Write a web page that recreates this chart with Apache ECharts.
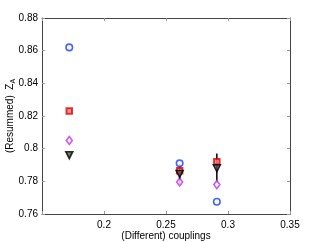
<!DOCTYPE html>
<html><head><meta charset="utf-8">
<script src="https://cdn.jsdelivr.net/npm/echarts@6/dist/echarts.min.js"></script>
<style>html,body{margin:0;padding:0;background:#fff}#c{width:321px;height:242px}</style>
</head><body><div id="c"></div>
<script>
const xVals = [0.172, 0.261, 0.291];
const circleVals = [0.862, 0.791, 0.7675];
const squareVals = [0.823, 0.7865, 0.792];
const diamondVals = [0.805, 0.7796, 0.778];
const triangleVals = [0.796, 0.7845, 0.788];
const triangleErr = [0, 0.006, 0.009];
const xTicks = [0.2, 0.25, 0.3, 0.35];
const yTicks = [0.76, 0.78, 0.8, 0.82, 0.84, 0.86, 0.88];

const pts = v => xVals.map((x, i) => [x, v[i]]);
const font = 'Liberation Sans, Arial, sans-serif';
const axisLine = {show: true, lineStyle: {color: '#444', width: 1}};
const tick = {show: true, inside: true, length: 3, lineStyle: {color: '#999'}};

const errSeries = xVals.map((x, i) => triangleErr[i] > 0 ? {
  type: 'line', xAxisIndex: 0, yAxisIndex: 0, symbol: 'none', silent: true,
  lineStyle: {color: '#000', width: 1.5}, z: 1,
  data: [[x, triangleVals[i] - triangleErr[i]], [x, triangleVals[i] + triangleErr[i]]]
} : null).filter(Boolean);

const chart = echarts.init(document.getElementById('c'), null, {renderer: 'canvas'});
chart.setOption({
  animation: false,
  grid: {left: 42, right: 31, top: 18, bottom: 28, containLabel: false, outerBoundsMode: 'none'},
  xAxis: [{
    type: 'value', min: 0.15, max: 0.35, interval: 0.05,
    axisLine, axisTick: tick, splitLine: {show: false},
    axisLabel: {color: '#000', fontSize: 10, fontFamily: font, margin: 6,
      formatter: v => xTicks.some(t => Math.abs(t - v) < 1e-9) ? String(+v.toFixed(2)) : ''},
    name: '(Different) couplings', nameLocation: 'middle', nameGap: 17, nameMoveOverlap: false,
    nameTextStyle: {color: '#000', fontSize: 10, fontFamily: font}
  }, {
    type: 'value', position: 'top', min: 0.15, max: 0.35, interval: 0.05,
    axisLine, axisTick: tick, axisLabel: {show: false}, splitLine: {show: false}
  }],
  yAxis: [{
    type: 'value', min: 0.76, max: 0.88, interval: 0.02,
    axisLine, axisTick: tick, splitLine: {show: false},
    axisLabel: {color: '#000', fontSize: 10, fontFamily: font, margin: 4,
      formatter: v => yTicks.some(t => Math.abs(t - v) < 1e-9) ? String(+v.toFixed(2)) : ''},
    name: '{a|(Resummed)  Z}{s|A}', nameLocation: 'middle', nameGap: 25, nameRotate: 90, nameMoveOverlap: false,
    nameTextStyle: {color: '#000', fontSize: 10, fontFamily: font,
      rich: {a: {fontSize: 10, fontFamily: font, color: '#000'},
             s: {fontSize: 7, fontFamily: font, color: '#000', padding: [7, 0, 0, 0]}}}
  }, {
    type: 'value', position: 'right', min: 0.76, max: 0.88, interval: 0.02,
    axisLine, axisTick: tick, axisLabel: {show: false}, splitLine: {show: false}
  }],
  series: [
    ...errSeries,
    {type: 'scatter', data: pts(circleVals), symbol: 'circle', symbolSize: 6.5, z: 3,
     itemStyle: {color: '#fff', borderColor: '#1a3cff', borderWidth: 1.6}},
    {type: 'scatter', data: pts(squareVals), symbol: 'rect', symbolSize: 5.5, z: 3,
     itemStyle: {color: '#f58a8a', borderColor: '#e60000', borderWidth: 2}},
    {type: 'scatter', data: pts(diamondVals), symbol: 'diamond', symbolSize: [6, 8], z: 3,
     itemStyle: {color: '#fff', borderColor: '#bf2cff', borderWidth: 1.6}},
    {type: 'scatter', data: pts(triangleVals), symbol: 'triangle', symbolRotate: 180, symbolSize: 7, z: 4,
     itemStyle: {color: '#555', borderColor: '#000', borderWidth: 1.6}}
  ]
});
</script></body></html>
